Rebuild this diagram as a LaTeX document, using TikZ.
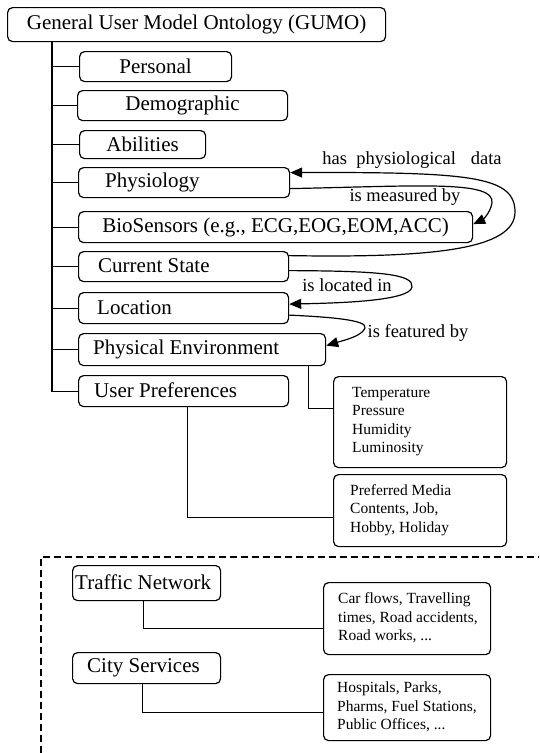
\documentclass[tikz,border=0pt]{standalone}
\usepackage{fontspec}
\setmainfont{Liberation Serif}
\usetikzlibrary{arrows.meta,calc}
\begin{document}
\begin{tikzpicture}[x=1pt,y=-1pt,
  box/.style={draw, rounded corners=5pt, line width=1.2pt, inner sep=0pt, anchor=north west, fill=white},
  big/.style={font=\fontsize{21}{24}\selectfont},
  bigtxt/.style={font=\fontsize{21}{24}\selectfont, inner sep=0pt, anchor=west},
  smalltxt/.style={font=\fontsize{15.5}{18.5}\selectfont, inner sep=0pt, anchor=west, align=left},
  lab/.style={font=\fontsize{18.5}{21}\selectfont, inner sep=0pt},
  conn/.style={line width=1.2pt},
  rel/.style={line width=1.2pt, -{Triangle[length=12pt,width=10pt]}},
]
\useasboundingbox (0,0) rectangle (539,753);

% main boxes
\node[box,big,minimum width=378pt,minimum height=34pt] (gumo) at (7,7) {General User Model Ontology (GUMO)};
\node[box,big,minimum width=152pt,minimum height=30pt] (pers) at (79,51) {Personal};
\node[box,big,minimum width=210pt,minimum height=30pt] (demo) at (77,90) {Demographic};
\node[box,big,minimum width=126pt,minimum height=28pt] (abil) at (79,130) {Abilities};
\node[box,minimum width=211pt,minimum height=30pt] (phys) at (78,167) {};
\node[bigtxt] (tphys) at (105,182) {Physiology};
\node[box,big,minimum width=394pt,minimum height=31pt] (bio) at (78,211) {BioSensors (e.g., ECG,EOG,EOM,ACC)};
\node[box,minimum width=210pt,minimum height=30pt] (cs) at (78,251) {};
\node[bigtxt] (tcs) at (98,266) {Current State};
\node[box,minimum width=210pt,minimum height=31pt] (loc) at (78,292) {};
\node[bigtxt] (tloc) at (97,307.5) {Location};
\node[box,minimum width=247pt,minimum height=32pt] (pe) at (78,333) {};
\node[bigtxt] (tpe) at (93,349) {Physical Environment};
\node[box,minimum width=210pt,minimum height=31pt] (up) at (78,375) {};
\node[bigtxt] (tup) at (94,390.5) {User Preferences};

% detail boxes
\node[box,minimum width=173pt,minimum height=91pt] (env) at (333,376) {};
\node[smalltxt] (tenv) at (352,421.5) {Temperature\\Pressure\\Humidity\\Luminosity};
\node[box,minimum width=173pt,minimum height=72pt] (pm) at (333,474) {};
\node[smalltxt] (tpm) at (350,510) {Preferred Media\\Contents, Job,\\Hobby, Holiday};

% spine
\coordinate (sp) at (52,41);
\foreach \b in {pers,demo,abil,phys,bio,cs,loc,pe,up}
  \draw[conn] (sp) |- (\b.west);

% relations
\draw[rel] ([yshift=11pt]cs.east) .. controls (430,258) and (515,250) .. (515,212)
  .. controls (515,176) and (470,172) .. ([yshift=10pt]phys.east);
\draw[rel] ([yshift=-6pt]phys.east) .. controls (420,186) and (495,180) .. (492,203)
  .. controls (490,214) and (482,220) .. ([yshift=3pt]bio.east);
\draw[rel] ([yshift=-4pt]cs.east) .. controls (380,271) and (414,274) .. (412,287)
  .. controls (410,301) and (340,303) .. ([yshift=4pt]loc.east);
\draw[rel] ([yshift=-7pt]loc.east) .. controls (330,317) and (368,320) .. (365,328)
  .. controls (362,336) and (345,340) .. ([yshift=4pt]pe.east);

\node[lab] (l1) at (412,160) {has\hspace{0.5em}physiological\hspace{0.8em}data};
\node[lab] (l2) at (405,197) {is measured by};
\node[lab] (l3) at (347,285) {is located in};
\node[lab] (l4) at (418,333) {is featured by};

% detail connectors
\draw[conn] ([xshift=-18pt]pe.south east) |- ([yshift=13.5pt]env.west);
\draw[conn] ([xshift=4pt]up.south) |- ([yshift=-7pt]pm.west);

% dashed region
\coordinate (d1) at (41,753);
\coordinate (d2) at (41,557);
\coordinate (d3) at (539,557);
\draw[line width=1.3pt, dash pattern=on 7pt off 4pt] (d1) -- (d2) -- (d3);

\node[box,minimum width=148pt,minimum height=35pt] (tn) at (72,565) {};
\node[bigtxt] (ttn) at (75,582.5) {Traffic Network};
\node[box,minimum width=148pt,minimum height=31pt] (city) at (72,652) {};
\node[bigtxt] (tcity) at (87,667.5) {City Services};

\node[box,minimum width=167pt,minimum height=72pt] (car) at (323,582) {};
\node[smalltxt] (tcar) at (338,618) {Car flows, Travelling\\times, Road accidents,\\Road works, ...};
\node[box,minimum width=167pt,minimum height=66pt] (hosp) at (323,674) {};
\node[smalltxt] (thosp) at (337,707) {Hospitals, Parks,\\Pharms, Fuel Stations,\\Public Offices, ...};

\draw[conn] ([xshift=-3pt]tn.south) |- ([yshift=-10pt]car.west);
\draw[conn] ([xshift=-4pt]city.south) |- ([yshift=-5pt]hosp.west);
\end{tikzpicture}
\end{document}
